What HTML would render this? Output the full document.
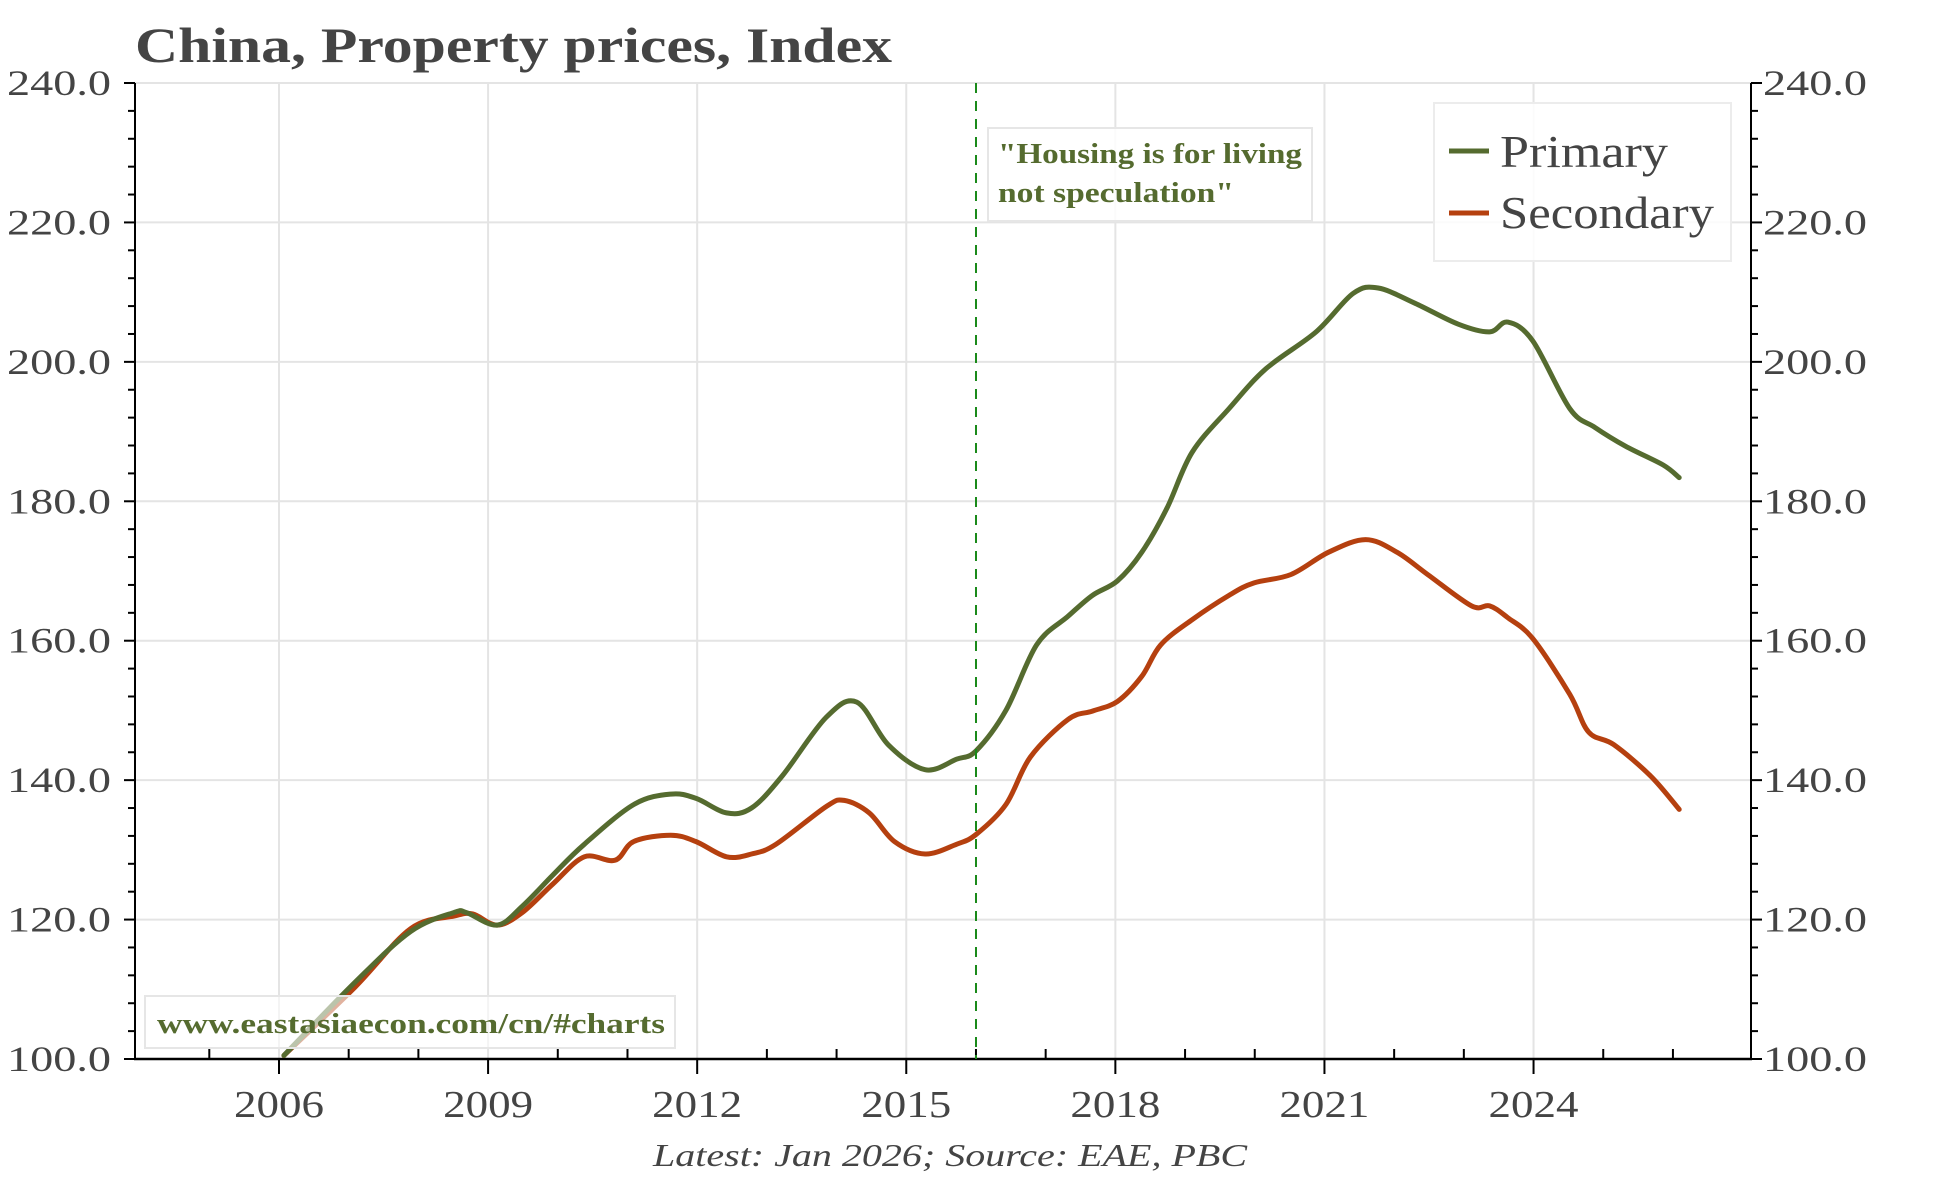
<!DOCTYPE html>
<html><head><meta charset="utf-8"><style>
html,body{margin:0;padding:0;background:#fff;}
svg{display:block;font-family:"Liberation Serif","DejaVu Serif",serif;}
</style></head><body>
<svg id="chart" width="1944" height="1178" viewBox="0 0 1944 1178" xmlns="http://www.w3.org/2000/svg">
<rect width="1944" height="1178" fill="#fff"/>
<text x="135" y="62" font-size="50" font-weight="bold" fill="#444" textLength="757" lengthAdjust="spacingAndGlyphs">China, Property prices, Index</text>
<g id="grid"></g>
<g id="axes"></g>
<g id="series"></g>
<line x1="976" y1="83" x2="976" y2="1059" stroke="#1a8a1a" stroke-width="2" stroke-dasharray="10,8"/>
<g>
<rect x="988" y="128" width="324" height="93" fill="#fff" fill-opacity="0.85" stroke="#e6e6e6" stroke-width="2"/>
<text x="998" y="163" font-size="28" font-weight="bold" fill="#556b2f" textLength="304" lengthAdjust="spacingAndGlyphs">"Housing is for living</text>
<text x="998" y="202" font-size="28" font-weight="bold" fill="#556b2f" textLength="236" lengthAdjust="spacingAndGlyphs">not speculation"</text>
</g>
<g>
<rect x="1434" y="103" width="297" height="158" fill="#fff" fill-opacity="0.85" stroke="#ececec" stroke-width="2"/>
<g>
<line x1="1449" y1="151" x2="1489" y2="151" stroke="#556b2f" stroke-width="5"/>
<text x="1500" y="167" font-size="46" fill="#444" textLength="168" lengthAdjust="spacingAndGlyphs">Primary</text>
</g>
<g>
<line x1="1449" y1="213" x2="1489" y2="213" stroke="#b5400f" stroke-width="5"/>
<text x="1500" y="228" font-size="46" fill="#444" textLength="214" lengthAdjust="spacingAndGlyphs">Secondary</text>
</g>
</g>
<g>
<rect x="145" y="996" width="530" height="52" fill="#fff" fill-opacity="0.6" stroke="#e6e6e6" stroke-width="2"/>
<text x="157" y="1033" font-size="28" font-weight="bold" fill="#556b2f" textLength="508" lengthAdjust="spacingAndGlyphs">www.eastasiaecon.com/cn/#charts</text>
</g>
<text x="950" y="1166" text-anchor="middle" font-size="32" font-style="italic" fill="#444" textLength="594" lengthAdjust="spacingAndGlyphs">Latest: Jan 2026; Source: EAE, PBC</text>
</svg>
<script>
const primaryYears=[2006.07,2007.09,2007.89,2008.51,2008.69,2009.13,2009.49,2009.93,2010.38,2011.09,2011.62,2011.98,2012.42,2012.78,2013.22,2013.85,2014.29,2014.74,2015.27,2015.72,2016.0,2016.43,2016.87,2017.32,2017.67,2018.03,2018.38,2018.74,2019.1,2019.63,2020.16,2020.88,2021.41,2021.77,2022.3,2022.92,2023.37,2023.63,2023.99,2024.52,2024.88,2025.32,2025.86,2026.09];
const primaryValues=[100.5,111,118.3,121,121,119.2,121.9,126.4,130.8,136.5,138,137.4,135.3,136,140.6,149,151.2,145.1,141.5,143,144.2,150,159.4,163.5,166.5,168.6,172.7,179,187,193.3,199,204.3,209.8,210.6,208.4,205.4,204.3,205.7,203,193.3,190.6,187.9,185.2,183.4];
const secondaryYears=[2006.07,2007.09,2007.89,2008.51,2008.78,2009.13,2009.49,2009.93,2010.38,2010.82,2011.09,2011.62,2011.98,2012.42,2012.78,2013.13,2013.85,2014.11,2014.47,2014.83,2015.27,2015.72,2016.0,2016.43,2016.78,2017.32,2017.67,2018.03,2018.38,2018.65,2019.1,2019.63,2019.99,2020.52,2021.06,2021.59,2022.04,2022.48,2023.11,2023.37,2023.63,2023.99,2024.52,2024.79,2025.15,2025.68,2026.09];
const secondaryValues=[100.5,110.3,118.7,120.5,120.8,119.2,121,125.1,129,128.5,131.2,132.1,131.2,129,129.4,130.8,136.2,137.1,135.3,131.2,129.4,130.8,132.2,136.5,143.3,148.7,149.9,151.3,154.9,159.4,163,166.5,168.3,169.5,172.7,174.5,172.7,169.5,165,165,163.3,160.3,152.3,146.9,145.1,140.6,135.8];
const yTicks=[100,120,140,160,180,200,220,240];
const yTickLabels=["100.0","120.0","140.0","160.0","180.0","200.0","220.0","240.0"];
const xTicks=[2006,2009,2012,2015,2018,2021,2024];
const xTickLabels=["2006","2009","2012","2015","2018","2021","2024"];

const NS="http://www.w3.org/2000/svg";
const L=135,R=1751,T=83,B=1059;
const X0=2003.934,X1=2027.12,Y0=100,Y1=240;
function xs(v){return L+(v-X0)/(X1-X0)*(R-L);}
function ys(v){return B-(v-Y0)/(Y1-Y0)*(B-T);}
function mk(tag,attrs,parent){const e=document.createElementNS(NS,tag);for(const k in attrs)e.setAttribute(k,attrs[k]);parent.appendChild(e);return e;}
const grid=document.getElementById('grid'),axes=document.getElementById('axes'),series=document.getElementById('series');
yTicks.forEach((v,i)=>{
  const g=mk('line',{x1:L,x2:R,y1:ys(v),y2:ys(v),stroke:'#e4e4e4','stroke-width':2},grid);
  
  
});
xTicks.forEach(v=>{
  const g=mk('line',{x1:xs(v),x2:xs(v),y1:T,y2:B,stroke:'#e4e4e4','stroke-width':2},grid);
  
  
});
const la=mk('line',{x1:L,x2:L,y1:T,y2:B,stroke:'#000','stroke-width':2},axes);


const ra=mk('line',{x1:R,x2:R,y1:T,y2:B,stroke:'#000','stroke-width':2},axes);


const xa=mk('line',{x1:L-1,x2:R+1,y1:B,y2:B,stroke:'#000','stroke-width':2.5},axes);


for(let v=Y0;v<=Y1;v+=4){
  const major=(v%20===0);const len=major?11:7;
  mk('line',{x1:L-len,x2:L,y1:ys(v),y2:ys(v),stroke:'#000','stroke-width':2},axes);
  mk('line',{x1:R,x2:R+len,y1:ys(v),y2:ys(v),stroke:'#000','stroke-width':2},axes);
}
yTicks.forEach((v,i)=>{
  const t=mk('text',{x:L-24,y:ys(v)+12,'text-anchor':'end','font-size':36,fill:'#444',textLength:104,lengthAdjust:'spacingAndGlyphs'},axes);
  t.textContent=yTickLabels[i];
  
  
  const t2=mk('text',{x:R+12,y:ys(v)+12,'text-anchor':'start','font-size':36,fill:'#444',textLength:104,lengthAdjust:'spacingAndGlyphs'},axes);
  t2.textContent=yTickLabels[i];
  
  
});
for(let y=2005;y<=2026;y++){
  if(xTicks.indexOf(y)>=0) continue;
  mk('line',{x1:xs(y),x2:xs(y),y1:B-10,y2:B,stroke:'#000','stroke-width':2},axes);
}
xTicks.forEach((v,i)=>{
  mk('line',{x1:xs(v),x2:xs(v),y1:B,y2:B+15,stroke:'#000','stroke-width':2},axes);
  const t=mk('text',{x:xs(v),y:1117,'text-anchor':'middle','font-size':38,fill:'#444',textLength:90,lengthAdjust:'spacingAndGlyphs'},axes);
  t.textContent=xTickLabels[i];
  
  
});
function path(xv,yv){
  const p=xv.map((x,i)=>[xs(x),ys(yv[i])]);
  let d='M'+p[0][0].toFixed(1)+','+p[0][1].toFixed(1);
  for(let i=0;i<p.length-1;i++){
    const p0=p[Math.max(0,i-1)],p1=p[i],p2=p[i+1],p3=p[Math.min(p.length-1,i+2)];
    const c1x=p1[0]+(p2[0]-p0[0])/6,c1y=p1[1]+(p2[1]-p0[1])/6;
    const c2x=p2[0]-(p3[0]-p1[0])/6,c2y=p2[1]-(p3[1]-p1[1])/6;
    d+=' C'+c1x.toFixed(1)+','+c1y.toFixed(1)+' '+c2x.toFixed(1)+','+c2y.toFixed(1)+' '+p2[0].toFixed(1)+','+p2[1].toFixed(1);
  }
  return d;
}
const ps=mk('path',{d:path(secondaryYears,secondaryValues),fill:'none',stroke:'#b5400f','stroke-width':5,'stroke-linejoin':'round','stroke-linecap':'round'},series);


const pp=mk('path',{d:path(primaryYears,primaryValues),fill:'none',stroke:'#556b2f','stroke-width':5,'stroke-linejoin':'round','stroke-linecap':'round'},series);


</script>
</body></html>
